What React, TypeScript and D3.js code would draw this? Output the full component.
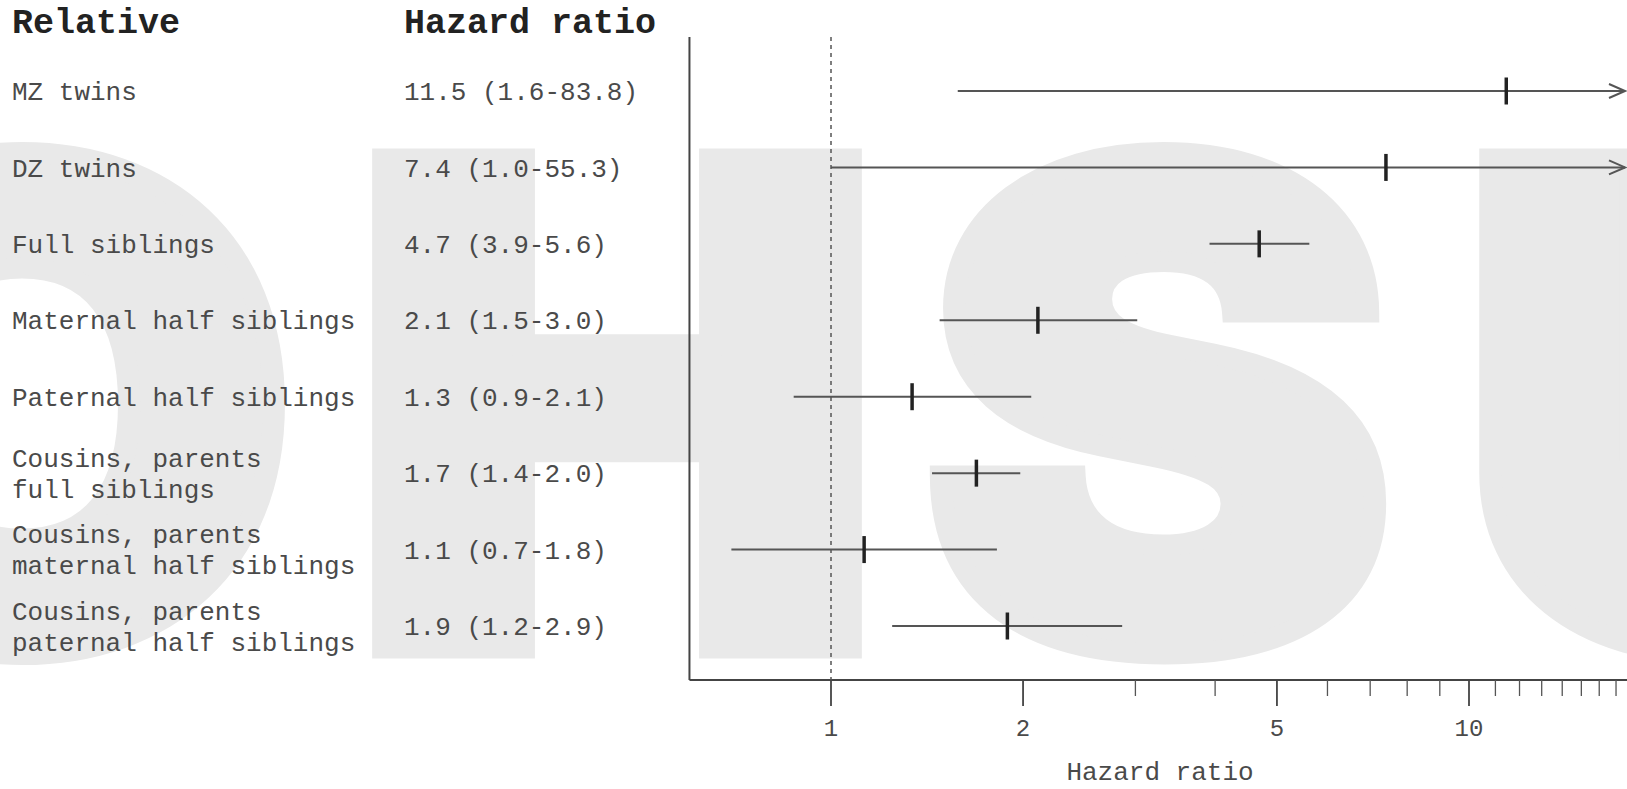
import React, { useEffect, useState } from "react";
import * as d3 from "d3";

const relatives: string[][] = [
  ["MZ twins"],
  ["DZ twins"],
  ["Full siblings"],
  ["Maternal half siblings"],
  ["Paternal half siblings"],
  ["Cousins, parents", "full siblings"],
  ["Cousins, parents", "maternal half siblings"],
  ["Cousins, parents", "paternal half siblings"],
];
const hrLabels = [
  "11.5 (1.6-83.8)",
  "7.4 (1.0-55.3)",
  "4.7 (3.9-5.6)",
  "2.1 (1.5-3.0)",
  "1.3 (0.9-2.1)",
  "1.7 (1.4-2.0)",
  "1.1 (0.7-1.8)",
  "1.9 (1.2-2.9)",
];
const hr = [11.44, 7.41, 4.69, 2.11, 1.34, 1.69, 1.127, 1.89];
const lower = [1.58, 1.0, 3.92, 1.48, 0.874, 1.44, 0.698, 1.247];
const upper = [83.8, 55.3, 5.62, 3.02, 2.06, 1.98, 1.82, 2.86];
const majorTicks = [1, 2, 5, 10];
const minorTicks = [3, 4, 6, 7, 8, 9, 11, 12, 13, 14, 15, 16, 17, 18, 19, 20];
const watermark = ["O", "H", "S", "U"];
const watermarkX = [22, 617, 1158, 1714];

const W = 1627;
const H = 789;
const FONT = "'Courier New', Courier, 'Nimbus Mono PS', 'Nimbus Mono L', FreeMono, 'Liberation Mono', monospace";

function useWatermark(): string | null {
  const [url, setUrl] = useState<string | null>(null);
  useEffect(() => {
    const c = document.createElement("canvas");
    c.width = W;
    c.height = H;
    const ctx = c.getContext("2d");
    if (!ctx) return;
    ctx.fillStyle = "#e9e9e9";
    ctx.strokeStyle = "#e9e9e9";
    ctx.lineWidth = 21;
    ctx.lineJoin = "miter";
    ctx.font = "900 672px Inter, 'Liberation Sans', sans-serif";
    ctx.textAlign = "center";
    ctx.textBaseline = "alphabetic";
    watermark.forEach((ch, i) => {
      ctx.save();
      ctx.translate(watermarkX[i], 648);
      ctx.scale(1.06, 1);
      ctx.fillText(ch, 0, 0);
      ctx.strokeText(ch, 0, 0);
      ctx.restore();
    });
    setUrl(c.toDataURL());
  }, []);
  return url;
}

export default function App() {
  const wm = useWatermark();
  const x = d3.scaleLog().domain([1, 10]).range([831, 1469]);
  const xMinVal = 0.6;
  const plotLeft = x(xMinVal);
  const plotRight = W;
  const plotTop = 37;
  const axisY = 680;
  const idx = relatives.map((_, i) => String(i));
  const y = d3.scalePoint<string>().domain(idx).range([91, 626]);
  const xMaxVal = x.invert(plotRight - 2);

  return (
    <svg
      width={W}
      height={H}
      style={{ position: "absolute", left: 0, top: 0, background: "#fff" }}
      fontFamily={FONT}
    >
      <rect x={0} y={0} width={W} height={H} fill="#fff" />
      {wm && <image href={wm} x={0} y={0} width={W} height={H} />}

      <text x={12} y={21} dy="0.35em" fontSize={35} fontWeight="bold" fill="#222">
        Relative
      </text>
      <text x={404} y={21} dy="0.35em" fontSize={35} fontWeight="bold" fill="#222">
        Hazard ratio
      </text>

      {relatives.map((lines, i) => {
        const cy = y(String(i))!;
        return (
          <g key={i}>
            {lines.map((ln, j) => (
              <text
                key={j}
                x={12}
                y={cy + (lines.length === 1 ? 0 : (j - 0.5) * 31)}
                dy="0.35em"
                fontSize={26}
                fill="#4a4a4a"
              >
                {ln}
              </text>
            ))}
            <text x={404} y={cy} dy="0.35em" fontSize={26} fill="#4a4a4a">
              {hrLabels[i]}
            </text>
          </g>
        );
      })}

      {/* axes */}
      <line x1={plotLeft} x2={plotLeft} y1={plotTop} y2={axisY} stroke="#444" strokeWidth={2} />
      <line x1={plotLeft} x2={plotRight} y1={axisY} y2={axisY} stroke="#444" strokeWidth={2} />
      {majorTicks.map((t) => (
        <g key={t}>
          <line x1={x(t)} x2={x(t)} y1={axisY} y2={axisY + 26} stroke="#444" strokeWidth={1.8} />
          <text x={x(t)} y={728} dy="0.35em" textAnchor="middle" fontSize={24} fill="#4a4a4a">
            {t}
          </text>
        </g>
      ))}
      {minorTicks.map((t) => (
        <line key={t} x1={x(t)} x2={x(t)} y1={axisY} y2={axisY + 16} stroke="#555" strokeWidth={1.3} />
      ))}
      <text x={1160} y={771} dy="0.35em" textAnchor="middle" fontSize={26} fill="#4a4a4a">
        Hazard ratio
      </text>

      {/* reference line */}
      <line
        x1={x(1)}
        x2={x(1)}
        y1={plotTop}
        y2={axisY}
        stroke="#555"
        strokeWidth={1.5}
        strokeDasharray="4,4"
      />

      {/* CIs */}
      {hr.map((v, i) => {
        const cy = y(String(i))!;
        const arrow = upper[i] > xMaxVal;
        const xr = arrow ? plotRight - 2 : x(upper[i]);
        return (
          <g key={i}>
            <line x1={x(lower[i])} x2={xr} y1={cy} y2={cy} stroke="#555" strokeWidth={2} />
            {arrow && (
              <polyline
                points={`${xr - 16},${cy - 7} ${xr},${cy} ${xr - 16},${cy + 7}`}
                fill="none"
                stroke="#555"
                strokeWidth={2}
              />
            )}
            <line x1={x(v)} x2={x(v)} y1={cy - 13.5} y2={cy + 13.5} stroke="#222" strokeWidth={3.5} />
          </g>
        );
      })}
    </svg>
  );
}
